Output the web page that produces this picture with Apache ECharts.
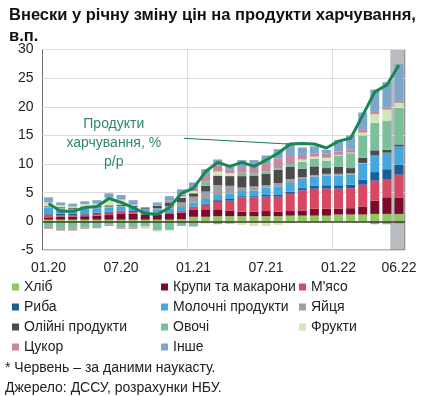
<!DOCTYPE html>
<html>
<head>
<meta charset="utf-8">
<script src="https://cdn.jsdelivr.net/npm/echarts@6/dist/echarts.min.js"></script>
<style>html,body{margin:0;padding:0;background:#fff}#c{width:427px;height:396px}</style>
</head>
<body>
<div id="c"></div>
<script>
const categories = ['01.20','02.20','03.20','04.20','05.20','06.20','07.20','08.20','09.20','10.20','11.20','12.20',
  '01.21','02.21','03.21','04.21','05.21','06.21','07.21','08.21','09.21','10.21','11.21','12.21',
  '01.22','02.22','03.22','04.22','05.22','06.22'];
const bread   = [0.3,0.3,0.3,0.3,0.3,0.3,0.3,0.3,0.3,0.3,0.3,0.4, 0.8,0.8,0.9,0.9,0.9,0.9,0.9,0.9,1.0,1.0,1.0,1.0, 1.2,1.2,1.2,1.3,1.3,1.3];
const cereals = [0.4,0.5,0.5,0.6,0.7,0.8,1.0,1.0,0.9,0.9,1.0,1.1, 1.2,1.3,1.2,1.0,0.8,0.8,0.9,0.8,0.8,0.9,1.2,1.2, 1.0,1.1,1.4,2.3,2.9,2.8];
const meat    = [0.5,0.3,0.3,0.3,0.3,0.4,0.4,0.3,0.2,0.2,0.2,0.3, 0.5,0.8,1.3,1.7,2.5,2.5,2.5,2.6,3.0,3.5,3.5,3.5, 3.5,3.5,3.8,3.5,3.2,4.1];
const fish    = [0.2,0.2,0.2,0.2,0.2,0.2,0.2,0.2,0.1,0.1,0.1,0.1, 0.1,0.2,0.3,0.3,0.2,0.2,0.3,0.4,0.4,0.4,0.5,0.6, 0.6,0.6,0.9,1.5,1.7,1.7];
const dairy   = [1.0,0.9,0.8,0.8,0.8,0.7,0.7,0.6,0.5,0.5,0.6,0.6, 0.7,0.8,0.9,1.0,0.9,1.0,1.3,1.4,1.5,1.6,1.6,1.7, 1.7,1.8,2.8,2.9,2.9,3.2];
const eggs    = [0.2,0.2,0.1,0.2,0.2,0.2,0.1,0.1,0.1,0.3,0.5,0.8, 1.0,1.3,1.7,1.3,0.6,0.7,0.4,0.6,0.7,0.3,0.3,0.3, 0.3,0.2,0.1,-0.5,-0.5,-0.4];
const oil     = [0.1,0.1,0.2,0.2,0.2,0.2,0.2,0.2,0.2,0.4,0.6,0.8, 0.6,1.0,1.7,1.7,2.0,1.9,2.0,2.3,2.1,1.5,1.5,1.0, 1.2,0.9,0.9,0.9,0.5,0.3];
const veg     = [-1.0,-1.3,-1.3,-1.1,-1.0,-0.6,-1.1,-1.1,-0.9,-1.6,-1.5,-0.8, -0.9,0.8,-0.5,-0.4,0.6,0.4,0.4,0.3,0.5,1.2,1.3,1.3, 2.0,2.6,3.9,4.8,5.1,6.4];
const fruit   = [0.6,0.3,0.2,0.4,0.4,1.3,0.9,0.2,-0.2,-0.2,-0.1,0.2, 0.4,-0.4,0.7,0.5,-0.6,-0.8,-0.8,-0.6,-0.3,0.4,0.4,0.5, 0.1,0.1,0.5,1.5,1.9,0.9];
const sugar   = [-0.3,-0.3,-0.3,-0.2,-0.2,-0.2,-0.2,-0.2,-0.1,0.1,0.3,0.4, 0.5,0.9,1.0,0.7,1.0,1.2,1.3,1.7,1.4,0.8,0.6,0.7, 0.6,0.5,0.6,0.4,0.4,0.4];
const other   = [0.9,0.5,0.5,0.5,0.6,0.8,0.8,0.8,0.2,0.5,0.8,0.9, 1.0,1.2,1.1,0.5,1.2,1.1,1.5,1.6,2.3,1.3,1.2,0.7, 2.0,2.5,2.9,3.9,4.4,6.3];
const foodYoY = [3.1,1.75,1.75,2.4,2.6,4.0,3.3,2.4,1.4,1.2,2.4,4.9, 5.8,8.7,10.3,9.6,10.3,9.6,10.7,11.9,13.5,13.6,13.5,12.8, 14.0,14.5,18.5,22.6,23.8,27.3];
const yTicks = [-5, 0, 5, 10, 15, 20, 25, 30];
const shownLabels = ['01.20','07.20','01.21','07.21','01.22','06.22'];

const comps = [
  ['Хліб', bread, '#8fc65f'],
  ['Крупи та макарони', cereals, '#7a0b2e'],
  ["М'ясо", meat, '#d94862'],
  ['Риба', fish, '#1b5d99'],
  ['Молочні продукти', dairy, '#45a7dd'],
  ['Яйця', eggs, '#9aa1a8'],
  ['Олійні продукти', oil, '#4b4b4b'],
  ['Овочі', veg, '#7cbf9b'],
  ['Фрукти', fruit, '#cfe8b8'],
  ['Цукор', sugar, '#c9879e'],
  ['Інше', other, '#7ea6cb']
];
const FONT = 'Liberation Sans, Arial, sans-serif';
const chart = echarts.init(document.getElementById('c'), null, {renderer: 'canvas'});
const series = comps.map(([name, data, color]) => ({
  name, type: 'bar', stack: 'all', data, barWidth: 9,
  itemStyle: {color}, emphasis: {disabled: true}
}));
series[0].markLine = {
  silent: true, symbol: 'none', label: {show: false},
  lineStyle: {color: '#3c3a2c', width: 1.5, type: 'solid'},
  data: [{yAxis: 0}]
};
series.push({
  name: 'Продукти харчування, % р/р', type: 'line', data: foodYoY,
  symbol: 'none', lineStyle: {color: '#1a8650', width: 3}, z: 5
});
const legendBase = {
  orient: 'vertical', top: 275, itemWidth: 7, itemHeight: 7, itemGap: 6, icon: 'rect',
  textStyle: {fontSize: 14, color: '#222', fontFamily: FONT}, selectedMode: false
};
const option = {
  animation: false,
  title: {
    text: 'Внески у річну зміну цін на продукти харчування,\nв.п.',
    left: 4, top: 0,
    textStyle: {fontSize: 16.5, fontWeight: 'bold', color: '#111', fontFamily: FONT, lineHeight: 21}
  },
  legend: [
    Object.assign({}, legendBase, {left: 7, data: ['Хліб','Риба','Олійні продукти','Цукор']}),
    Object.assign({}, legendBase, {left: 156, data: ['Крупи та макарони','Молочні продукти','Овочі','Інше']}),
    Object.assign({}, legendBase, {left: 294, data: ["М'ясо",'Яйця','Фрукти']})
  ],
  grid: {left: 42.5, right: 22, top: 49.5, bottom: 146, show: true, borderColor: '#707070', borderWidth: 1},
  xAxis: {
    type: 'category', data: categories, boundaryGap: true,
    axisLine: {show: false}, axisTick: {show: false},
    axisLabel: {
      interval: (i, v) => shownLabels.includes(v), fontSize: 14, color: '#222', margin: 11, fontFamily: FONT
    },
    splitLine: {show: true, interval: (i) => i > 0 && i % 12 === 0, lineStyle: {color: '#dcdcdc', width: 1}}
  },
  yAxis: {
    type: 'value', min: yTicks[0], max: yTicks[yTicks.length - 1], interval: 5,
    axisLine: {show: false}, axisTick: {show: false},
    axisLabel: {fontSize: 14, color: '#222', margin: 9, fontFamily: FONT},
    splitLine: {lineStyle: {color: '#dcdcdc', width: 1}}
  },
  series
};
chart.setOption(option);

// derived annotation layer
const px = (i, v) => chart.convertToPixel({gridIndex: 0}, [i, v]);
const lerpX = (f) => { const a = Math.floor(f); const pa = px(a, 0)[0], pb = px(a + 1, 0)[0]; return pa + (pb - pa) * (f - a); };
const yTop = px(0, 30)[1], yBot = px(0, -5)[1];
const bandL = lerpX(categories.length - 1.72), bandR = lerpX(categories.length - 0.5);
const a1 = [lerpX(11.2), px(0, 14.5)[1]], a2 = [lerpX(19.8), px(0, 13.5)[1]];
const textX = lerpX(5.4);
chart.setOption({
  graphic: [
    {type: 'rect', z: -1, silent: true, shape: {x: bandL, y: yTop, width: bandR - bandL, height: yBot - yTop}, style: {fill: '#b9bdc1'}},
    {type: 'line', z: 10, silent: true, shape: {x1: a1[0], y1: a1[1], x2: a2[0], y2: a2[1]}, style: {stroke: '#1f7a52', lineWidth: 1}},
    {type: 'text', z: 10, silent: true, x: textX, y: px(0, 18.7)[1],
      style: {text: 'Продукти\nхарчування, %\nр/р', fill: '#2d8a6a', font: '14px ' + FONT, textAlign: 'center', lineHeight: 19}},
    {type: 'text', silent: true, x: 5, y: 361, style: {text: '* Червень – за даними наукасту.', fill: '#222', font: '14px ' + FONT}},
    {type: 'text', silent: true, x: 5, y: 381, style: {text: 'Джерело: ДССУ, розрахунки НБУ.', fill: '#222', font: '14px ' + FONT}}
  ]
});
</script>
</body>
</html>
